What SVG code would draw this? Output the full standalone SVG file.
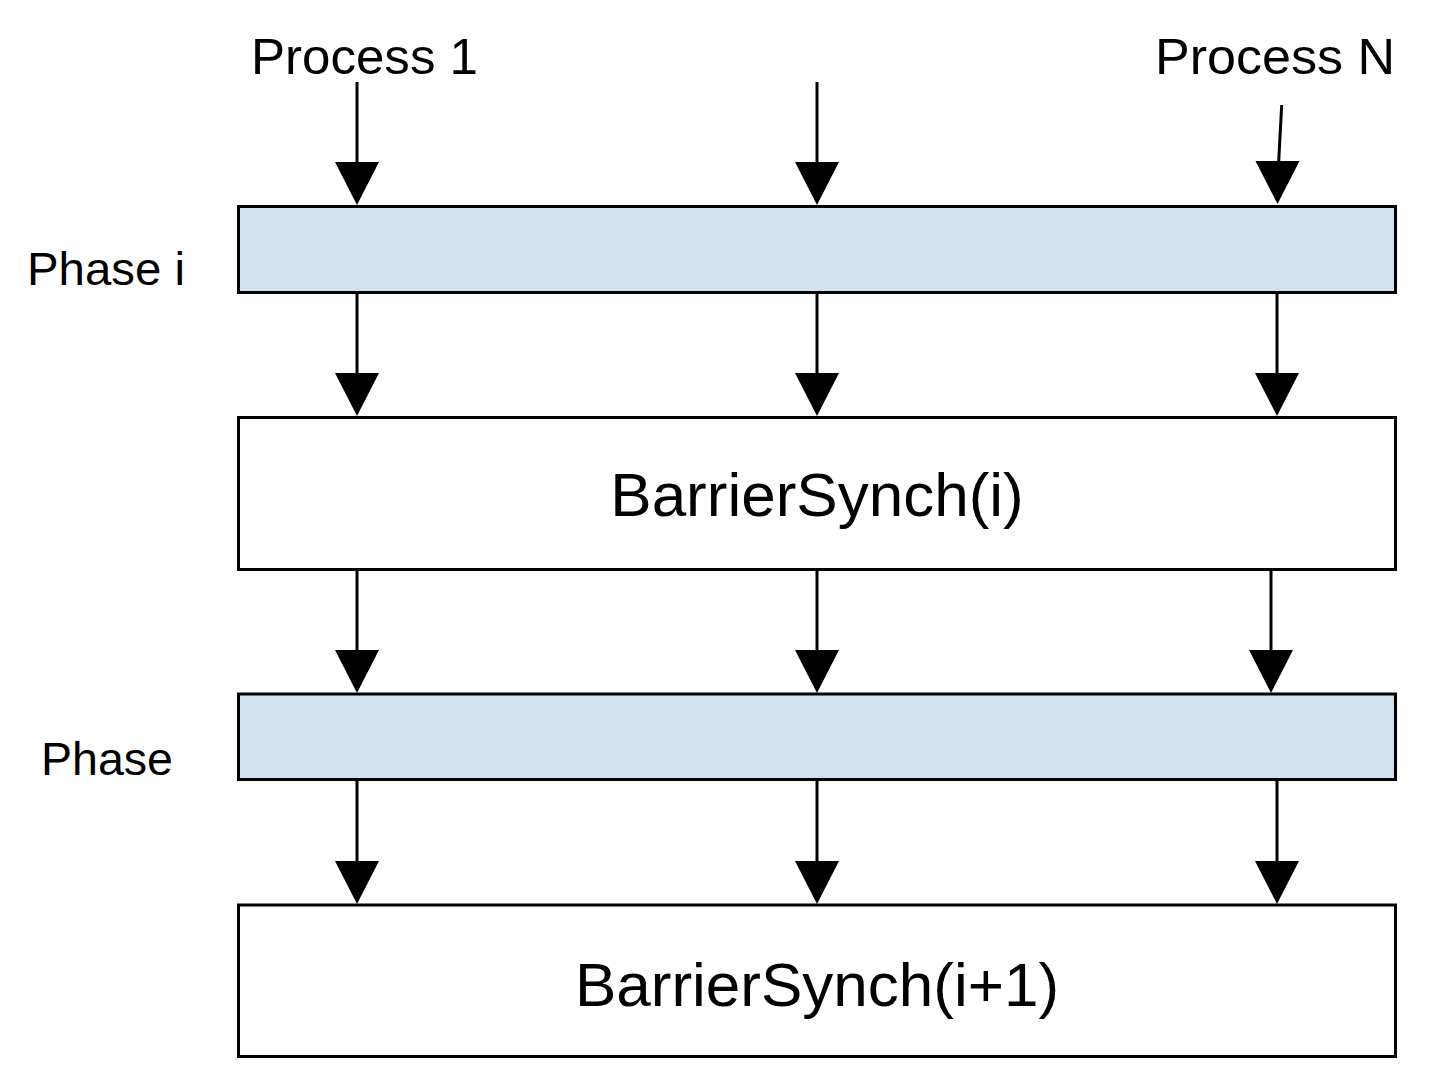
<svg xmlns="http://www.w3.org/2000/svg" width="1450" height="1090" viewBox="0 0 1450 1090">
<style>
  .phase { fill: #d2e1ef; stroke: #000; stroke-width: 3; }
  .barrier { fill: #fff; stroke: #000; stroke-width: 3; }
  .lbl { font-family: "Liberation Sans", Arial, sans-serif; fill: #000; }
  .conn line { stroke: #000; stroke-width: 3; fill: none; }
  .conn polygon { fill: #000; stroke: none; }
</style>
<defs>
  <polygon id="head" points="-22,-43 22,-43 0,0"/>
</defs>
<rect width="1450" height="1090" fill="#fff"/>

<g id="process1-label"><text class="lbl" x="251" y="74" font-size="50" textLength="227" lengthAdjust="spacingAndGlyphs">Process 1</text></g>
<g id="processN-label"><text class="lbl" x="1155" y="74" font-size="50" textLength="240" lengthAdjust="spacingAndGlyphs">Process N</text></g>

<g id="phase-i">
  <rect class="phase" x="238.5" y="206.5" width="1157" height="86"/>
  <text class="lbl" x="27" y="285" font-size="47" textLength="158" lengthAdjust="spacingAndGlyphs">Phase i</text>
</g>
<g id="barrier-i">
  <rect class="barrier" x="238.5" y="417.5" width="1157" height="152"/>
  <text class="lbl" x="817" y="516" font-size="62" text-anchor="middle">BarrierSynch(i)</text>
</g>
<g id="phase-next">
  <rect class="phase" x="238.5" y="694" width="1157" height="85.5"/>
  <text class="lbl" x="41" y="775" font-size="47" textLength="132" lengthAdjust="spacingAndGlyphs">Phase</text>
</g>
<g id="barrier-i1">
  <rect class="barrier" x="238.5" y="905" width="1157" height="151.5"/>
  <text class="lbl" x="817" y="1006" font-size="62" text-anchor="middle">BarrierSynch(i+1)</text>
</g>

<g id="connectors" class="conn">
  <!-- top row -->
  <line x1="357" y1="82" x2="357" y2="165"/>
  <use href="#head" x="357" y="205"/>
  <line x1="817" y1="82" x2="817" y2="165"/>
  <use href="#head" x="817" y="205"/>
  <line x1="1281.7" y1="105" x2="1278.5" y2="165"/>
  <polygon points="1255.5,161 1299.5,161 1277.5,204"/>
  <!-- row 2 -->
  <line x1="357" y1="293" x2="357" y2="376"/>
  <use href="#head" x="357" y="416"/>
  <line x1="817" y1="293" x2="817" y2="376"/>
  <use href="#head" x="817" y="416"/>
  <line x1="1277" y1="293" x2="1277" y2="376"/>
  <use href="#head" x="1277" y="416"/>
  <!-- row 3 -->
  <line x1="357" y1="570" x2="357" y2="652"/>
  <use href="#head" x="357" y="693"/>
  <line x1="817" y1="570" x2="817" y2="652"/>
  <use href="#head" x="817" y="693"/>
  <line x1="1271" y1="570" x2="1271" y2="652"/>
  <use href="#head" x="1271" y="693"/>
  <!-- row 4 -->
  <line x1="357" y1="780" x2="357" y2="863"/>
  <use href="#head" x="357" y="904"/>
  <line x1="817" y1="780" x2="817" y2="863"/>
  <use href="#head" x="817" y="904"/>
  <line x1="1277" y1="780" x2="1277" y2="863"/>
  <use href="#head" x="1277" y="904"/>
</g>
</svg>
